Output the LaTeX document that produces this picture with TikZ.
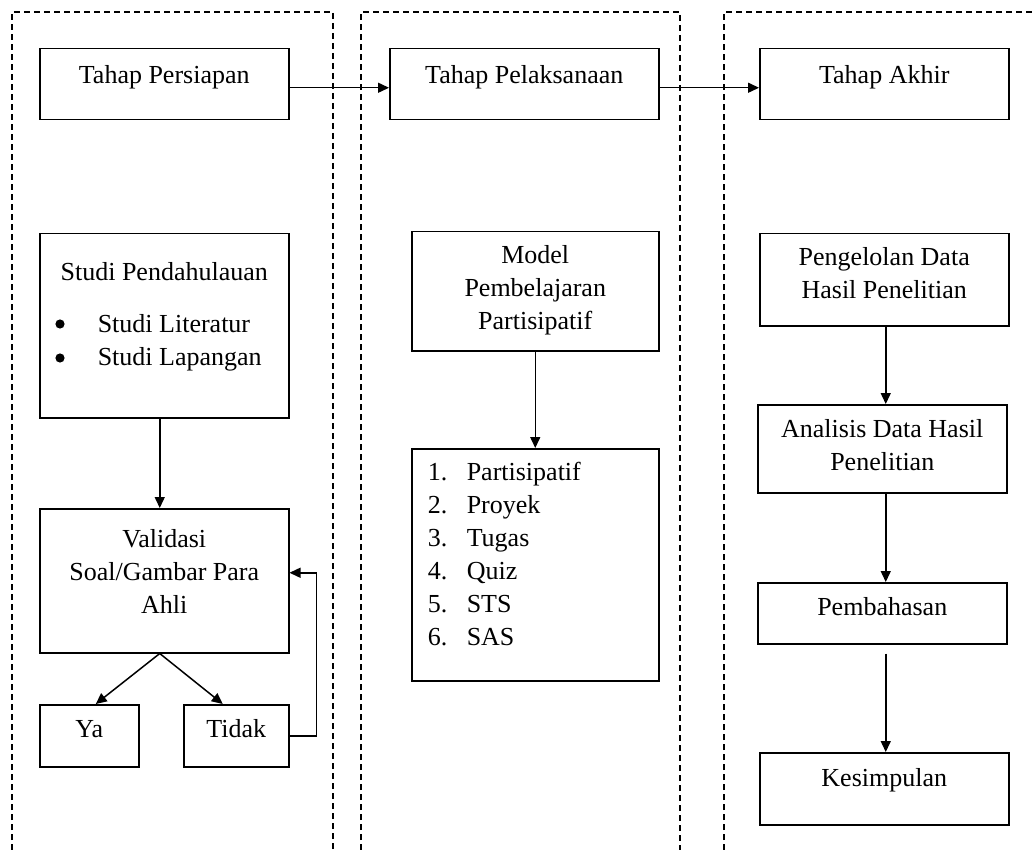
\documentclass[tikz,border=0pt]{standalone}
\usepackage{fontspec}
\setmainfont{Liberation Serif}
\usetikzlibrary{arrows.meta,calc}
\newcommand{\bxc}[4]{\parbox[c][#2pt][t]{#1pt}{\centering\rule{0pt}{#3pt}#4\par}}
\newcommand{\bitem}[1]{\hspace*{58pt}#1\par}
\newcommand{\nitem}[2]{\hspace*{16pt}\makebox[39pt][l]{#1}#2\par}
\begin{document}
\begin{tikzpicture}[x=1pt,y=-1pt,
  box/.style={draw, line width=1.5pt, inner sep=0pt, anchor=north west, font=\fontsize{26}{33}\selectfont},
  arr/.style={line width=1.5pt, -{Triangle[length=11pt,width=10pt]}},
  frame/.style={line width=1.1pt, dash pattern=on 6pt off 4pt},
  dot/.style={fill=black}]
\useasboundingbox (0,0) rectangle (1035,850);
% dashed column frames
\draw[frame] (12,850) -- (12,12) -- (333,12) -- (333,850);
\draw[frame] (361,850) -- (361,12) -- (680,12) -- (680,850);
\draw[frame] (724,850) -- (724,12) -- (1035,12);
% column 1
\node[box] (persiapan) at (39,48) {\bxc{249}{71}{35}{Tahap Persiapan}};
\node[box] (studi) at (39,233) {\parbox[c][184pt][t]{249pt}{\centering\rule{0pt}{47pt}Studi Pendahulauan\par\vspace{19pt}\raggedright\bitem{Studi Literatur}\bitem{Studi Lapangan}}};
\fill[dot] ($(studi.north west)+(21,91)$) circle (4.6pt);
\fill[dot] ($(studi.north west)+(21,125)$) circle (4.6pt);
\node[box] (validasi) at (39,508) {\bxc{249}{144}{39}{Validasi\\Soal/Gambar Para\\Ahli}};
\node[box] (ya) at (39,704) {\bxc{99}{62}{33}{Ya}};
\node[box] (tidak) at (183,704) {\bxc{105}{62}{33}{Tidak}};
% column 2
\node[box] (pelaksanaan) at (389,48) {\bxc{269}{71}{35}{Tahap Pelaksanaan}};
\node[box] (model) at (411,231) {\bxc{247}{119}{32}{Model\\Pembelajaran\\Partisipatif}};
\node[box] (list) at (411,448) {\parbox[c][232pt][t]{247pt}{\raggedright\rule{0pt}{32pt}\nitem{1.}{Partisipatif}\nitem{2.}{Proyek}\nitem{3.}{Tugas}\nitem{4.}{Quiz}\nitem{5.}{STS}\nitem{6.}{SAS}}};
% column 3
\node[box] (akhir) at (759,48) {\bxc{249}{71}{35}{Tahap Akhir}};
\node[box] (pengelolan) at (759,233) {\bxc{249}{92}{32}{Pengelolan Data\\Hasil Penelitian}};
\node[box] (analisis) at (757,404) {\bxc{249}{88}{33}{Analisis Data Hasil\\Penelitian}};
\node[box] (pembahasan) at (757,582) {\bxc{249}{61}{33}{Pembahasan}};
\node[box] (kesimpulan) at (759,752) {\bxc{249}{72}{34}{Kesimpulan}};
% connectors
\draw[arr] ([yshift=-3.5pt]persiapan.east) -- ([yshift=-3.5pt]pelaksanaan.west);
\draw[arr] ([yshift=-3.5pt]pelaksanaan.east) -- ([yshift=-3.5pt]akhir.west);
\draw[arr] ([xshift=-4.5pt]studi.south) -- ([xshift=-4.5pt]validasi.north);
\draw[arr] ([xshift=-4.5pt]validasi.south) -- ([xshift=6.5pt]ya.north);
\draw[arr] ([xshift=-4.5pt]validasi.south) -- ([xshift=-13.5pt]tidak.north);
\draw[arr] (tidak.east) -- ++(27,0) |- ([yshift=8pt]validasi.east);
\draw[arr] (model.south) -- (model.south |- list.north);
\draw[arr] ([xshift=1.5pt]pengelolan.south) -- ([xshift=1.5pt]pengelolan.south |- analisis.north);
\draw[arr] ([xshift=3.5pt]analisis.south) -- ([xshift=3.5pt]analisis.south |- pembahasan.north);
\draw[arr] ([xshift=3.5pt,yshift=-9pt]pembahasan.south) -- ([xshift=3.5pt]pembahasan.south |- kesimpulan.north);
\end{tikzpicture}
\end{document}
